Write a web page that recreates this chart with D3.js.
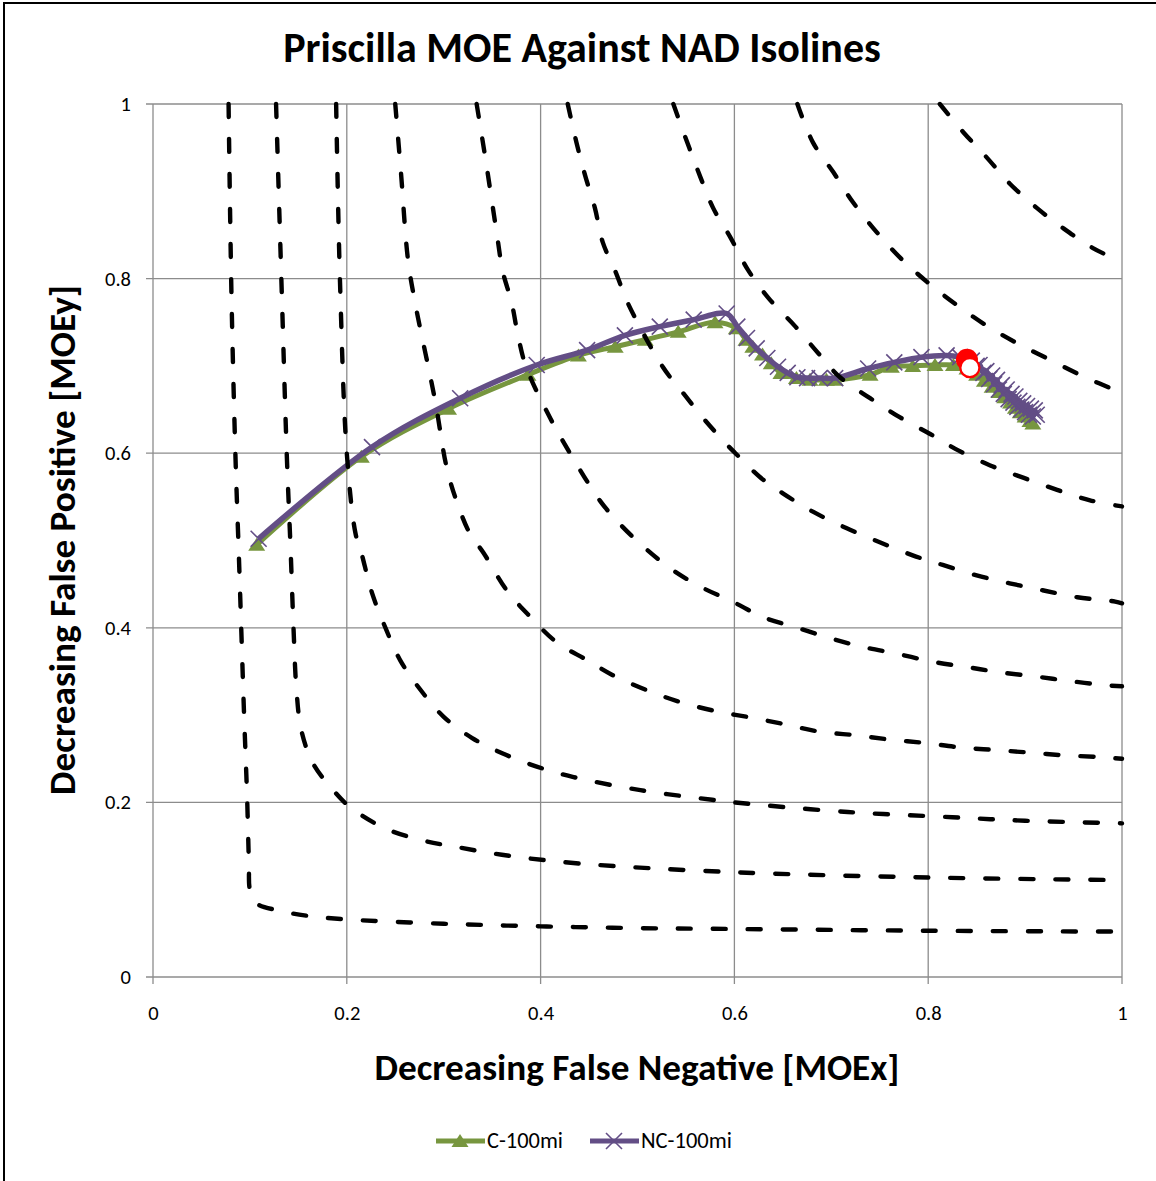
<!DOCTYPE html>
<html><head><meta charset="utf-8">
<script src="https://cdn.jsdelivr.net/npm/d3@7"></script>
<style>body{margin:0;background:#fff;overflow:hidden}</style>
</head><body>
<svg id="chart" width="1156" height="1181"></svg>
<script>
// ---------- data ----------
const chartTitle = "Priscilla MOE Against NAD Isolines";
const xAxisTitle = "Decreasing False Negative [MOEx]";
const yAxisTitle = "Decreasing False Positive [MOEy]";
const xTicks = [0, 0.2, 0.4, 0.6, 0.8, 1];
const yTicks = [0, 0.2, 0.4, 0.6, 0.8, 1];
const xTickLabels = ["0", "0.2", "0.4", "0.6", "0.8", "1"];
const yTickLabels = ["0", "0.2", "0.4", "0.6", "0.8", "1"];
const seriesNames = ["C-100mi", "NC-100mi"];

// C-100mi  [MOEx, MOEy]
const seriesC = [
  [0.107,0.495],[0.215,0.596],[0.305,0.651],[0.387,0.690],[0.439,0.712],[0.477,0.722],
  [0.508,0.730],[0.542,0.739],[0.580,0.750],[0.602,0.743],[0.612,0.730],[0.619,0.722],
  [0.629,0.713],[0.638,0.703],[0.648,0.692],[0.664,0.686],[0.678,0.684],[0.695,0.684],
  [0.704,0.684],[0.740,0.690],[0.762,0.699],[0.784,0.700],[0.807,0.701],[0.826,0.701],
  [0.840,0.697],[0.850,0.690],[0.858,0.683],[0.866,0.676],[0.873,0.670],[0.879,0.664],
  [0.885,0.658],[0.890,0.652],[0.895,0.647],[0.900,0.642],[0.905,0.637],[0.908,0.634]
];
// NC-100mi  [MOEx, MOEy]
const seriesNC = [
  [0.109,0.502],[0.226,0.607],[0.317,0.663],[0.396,0.701],[0.448,0.718],[0.487,0.735],
  [0.523,0.745],[0.558,0.753],[0.592,0.760],[0.603,0.745],[0.613,0.732],[0.623,0.720],
  [0.634,0.709],[0.645,0.699],[0.655,0.692],[0.665,0.687],[0.675,0.686],[0.688,0.686],
  [0.704,0.686],[0.738,0.697],[0.765,0.704],[0.793,0.710],[0.819,0.712],[0.833,0.710],
  [0.845,0.706],[0.850,0.700],[0.853,0.701],[0.857,0.692],[0.860,0.694],[0.863,0.685],
  [0.866,0.689],[0.868,0.679],[0.871,0.684],[0.873,0.673],[0.876,0.678],[0.878,0.668],
  [0.881,0.673],[0.883,0.662],[0.886,0.668],[0.888,0.658],[0.890,0.665],[0.892,0.653],
  [0.894,0.660],[0.896,0.650],[0.898,0.657],[0.900,0.647],[0.902,0.654],[0.904,0.644],
  [0.906,0.651],[0.908,0.642],[0.910,0.649],[0.912,0.644]
];
// highlighted points
const bestNC = [0.840, 0.707];
const bestC  = [0.843, 0.698];

// NAD isolines
const isoA = [[0.078,1.0],[0.081,0.78],[0.085,0.6],[0.089,0.47],[0.094,0.3],[0.097,0.21],[0.099,0.13],[0.100,0.100],[0.106,0.085],[0.13,0.076],[0.16,0.070],[0.2,0.066],[0.3,0.061],[0.4,0.058],[0.5,0.056],[0.6,0.055],[0.8,0.053],[1.0,0.052]];
const isoB = [[0.127,1.0],[0.133,0.78],[0.138,0.6],[0.142,0.49],[0.145,0.40],[0.148,0.33],[0.153,0.283],[0.165,0.245],[0.186,0.214],[0.203,0.195],[0.24,0.170],[0.28,0.156],[0.313,0.149],[0.36,0.140],[0.44,0.130],[0.6,0.120],[0.8,0.114],[1.0,0.111]];
const isoC = [[0.189,1.0],[0.193,0.796],[0.200,0.6],[0.209,0.508],[0.215,0.486],[0.226,0.44],[0.241,0.397],[0.255,0.363],[0.276,0.329],[0.300,0.298],[0.329,0.274],[0.361,0.256],[0.396,0.241],[0.434,0.229],[0.503,0.214],[0.577,0.203],[0.609,0.199],[0.717,0.189],[0.825,0.183],[0.9,0.179],[1.0,0.176]];
const isoD = [[0.250,1.0],[0.256,0.92],[0.263,0.823],[0.270,0.775],[0.291,0.661],[0.303,0.584],[0.313,0.546],[0.327,0.508],[0.341,0.486],[0.365,0.443],[0.389,0.413],[0.417,0.383],[0.448,0.363],[0.474,0.346],[0.513,0.327],[0.547,0.314],[0.583,0.304],[0.618,0.297],[0.654,0.289],[0.688,0.281],[0.724,0.277],[0.760,0.272],[0.797,0.268],[0.833,0.263],[0.869,0.260],[0.905,0.257],[0.939,0.254],[0.975,0.252],[1.0,0.250]];
const isoE = [[0.334,1.0],[0.343,0.938],[0.355,0.85],[0.361,0.808],[0.370,0.773],[0.377,0.733],[0.385,0.699],[0.410,0.640],[0.432,0.597],[0.461,0.546],[0.480,0.521],[0.506,0.493],[0.534,0.468],[0.565,0.447],[0.598,0.430],[0.630,0.412],[0.665,0.400],[0.699,0.388],[0.733,0.378],[0.769,0.370],[0.805,0.361],[0.840,0.355],[0.874,0.349],[0.912,0.344],[0.946,0.339],[0.985,0.334],[1.0,0.333]];
const isoF = [[0.428,1.0],[0.437,0.956],[0.446,0.918],[0.456,0.881],[0.464,0.842],[0.478,0.806],[0.490,0.772],[0.526,0.699],[0.547,0.669],[0.571,0.636],[0.593,0.609],[0.601,0.600],[0.626,0.573],[0.650,0.554],[0.681,0.533],[0.716,0.514],[0.750,0.498],[0.784,0.483],[0.815,0.472],[0.850,0.460],[0.884,0.451],[0.918,0.443],[0.954,0.435],[0.993,0.430],[1.0,0.428]];
const isoG = [[0.537,1.0],[0.551,0.957],[0.565,0.916],[0.578,0.881],[0.596,0.847],[0.614,0.810],[0.635,0.778],[0.663,0.745],[0.687,0.714],[0.709,0.687],[0.740,0.663],[0.771,0.641],[0.802,0.622],[0.828,0.605],[0.864,0.586],[0.898,0.572],[0.933,0.558],[0.967,0.546],[1.0,0.539]];
const isoH = [[0.665,1.0],[0.681,0.956],[0.702,0.922],[0.722,0.888],[0.747,0.853],[0.771,0.824],[0.799,0.796],[0.828,0.771],[0.859,0.747],[0.890,0.727],[0.922,0.709],[0.960,0.688],[1.0,0.669]];
const isoI = [[0.812,1.0],[0.836,0.968],[0.861,0.938],[0.884,0.909],[0.912,0.881],[0.939,0.858],[0.970,0.835],[1.0,0.819]];
const isolines = [isoA, isoB, isoC, isoD, isoE, isoF, isoG, isoH, isoI];

// ---------- drawing ----------
const FONT = "Carlito, Calibri, Lato, 'Open Sans', sans-serif";
const svg = d3.select("#chart");
const colC = "#77963F", colNC = "#634E86";
const L = 153, R = 1122, T = 104, B = 977;
const x = d3.scaleLinear().domain([0, 1]).range([L, R]);
const y = d3.scaleLinear().domain([0, 1]).range([B, T]);

function fitWidth(sel, w) {
  const len = sel.node().getComputedTextLength();
  const fs = parseFloat(sel.attr("font-size"));
  sel.attr("font-size", fs * w / len);
  return fs * w / len;
}
function sizeFor(str, w) {
  const tmp = svg.append("text").attr("font-family", FONT).attr("font-size", 20).text(str);
  const fs = fitWidth(tmp, w); tmp.remove(); return fs;
}

svg.append("rect").attr("x", 4).attr("y", 3).attr("width", 1170).attr("height", 1200)
  .attr("fill", "#fff").attr("stroke", "#000").attr("stroke-width", 2);

// grid
const grid = svg.append("g").attr("stroke", "#8c8c8c").attr("stroke-width", 1.3);
xTicks.forEach(v => grid.append("line").attr("x1", x(v)).attr("x2", x(v)).attr("y1", T).attr("y2", B + 7));
yTicks.forEach(v => grid.append("line").attr("y1", y(v)).attr("y2", y(v)).attr("x1", L - 7).attr("x2", R));

const tickFs = sizeFor("0.8", 26);
const xAxis = svg.append("g").attr("transform", `translate(0,${B})`)
  .call(d3.axisBottom(x).tickValues(xTicks).tickFormat((d, i) => xTickLabels[i]).tickSize(0).tickPadding(28));
xAxis.select(".domain").remove();
xAxis.selectAll("text").attr("font-family", FONT).attr("font-size", tickFs).attr("fill", "#000");
const yAxis = svg.append("g").attr("transform", `translate(${L},0)`)
  .call(d3.axisLeft(y).tickValues(yTicks).tickFormat((d, i) => yTickLabels[i]).tickSize(0).tickPadding(22));
yAxis.select(".domain").remove();
yAxis.selectAll("text").attr("font-family", FONT).attr("font-size", tickFs).attr("fill", "#000");

// series
const line = d3.line().x(d => x(d[0])).y(d => y(d[1])).curve(d3.curveCatmullRom.alpha(0.5));
const tri = "M0,-7L8.5,6L-8.5,6Z";
const cross = "M-8,-8L8,8M-8,8L8,-8";

svg.append("path").attr("d", line(seriesC)).attr("fill", "none").attr("stroke", colC).attr("stroke-width", 5).attr("stroke-linejoin", "round");
svg.append("g").selectAll("path").data(seriesC).join("path")
  .attr("transform", d => `translate(${x(d[0])},${y(d[1])})`).attr("d", tri).attr("fill", colC);

svg.append("path").attr("d", line(seriesNC)).attr("fill", "none").attr("stroke", colNC).attr("stroke-width", 5.5).attr("stroke-linejoin", "round");
svg.append("g").selectAll("path").data(seriesNC).join("path")
  .attr("transform", d => `translate(${x(d[0])},${y(d[1])})`).attr("d", cross)
  .attr("stroke", colNC).attr("stroke-width", 1.6).attr("fill", "none");

// isolines
svg.append("g").selectAll("path").data(isolines).join("path")
  .attr("d", d => line(d)).attr("fill", "none").attr("stroke", "#000")
  .attr("stroke-width", 4.4).attr("stroke-dasharray", "13,22").attr("stroke-linecap", "round");

// highlighted points
svg.append("circle").attr("cx", x(bestNC[0])).attr("cy", y(bestNC[1])).attr("r", 11).attr("fill", "#ff0000");
svg.append("circle").attr("cx", x(bestC[0])).attr("cy", y(bestC[1])).attr("r", 9.5).attr("fill", "#fff").attr("stroke", "#ff0000").attr("stroke-width", 2.2);

// titles
const t = svg.append("text").attr("x", 582).attr("y", 62).attr("text-anchor", "middle")
  .attr("font-family", FONT).attr("font-weight", "bold").attr("font-size", 34).text(chartTitle);
fitWidth(t, 598);
const xt = svg.append("text").attr("x", 637).attr("y", 1080).attr("text-anchor", "middle")
  .attr("font-family", FONT).attr("font-weight", "bold").attr("font-size", 30).text(xAxisTitle);
fitWidth(xt, 525);
const yt = svg.append("text").attr("transform", "translate(75,540) rotate(-90)").attr("text-anchor", "middle")
  .attr("font-family", FONT).attr("font-weight", "bold").attr("font-size", 30).text(yAxisTitle);
fitWidth(yt, 510);

// legend
const leg = svg.append("g");
const legItems = [
  {name: seriesNames[0], x0: 436, col: colC, m: tri, fill: true, w: 76},
  {name: seriesNames[1], x0: 590, col: colNC, m: cross, fill: false, w: 91}
];
legItems.forEach(it => {
  leg.append("line").attr("x1", it.x0).attr("x2", it.x0 + 49).attr("y1", 1141).attr("y2", 1141)
    .attr("stroke", it.col).attr("stroke-width", 5);
  const mk = leg.append("path").attr("transform", `translate(${it.x0 + 24},1141)`).attr("d", it.m);
  if (it.fill) mk.attr("fill", it.col); else mk.attr("stroke", it.col).attr("stroke-width", 1.6).attr("fill", "none");
  const tx = leg.append("text").attr("x", it.x0 + 51).attr("y", 1148).attr("font-family", FONT).attr("font-size", 18).text(it.name);
  fitWidth(tx, it.w);
});
</script>
</body></html>
